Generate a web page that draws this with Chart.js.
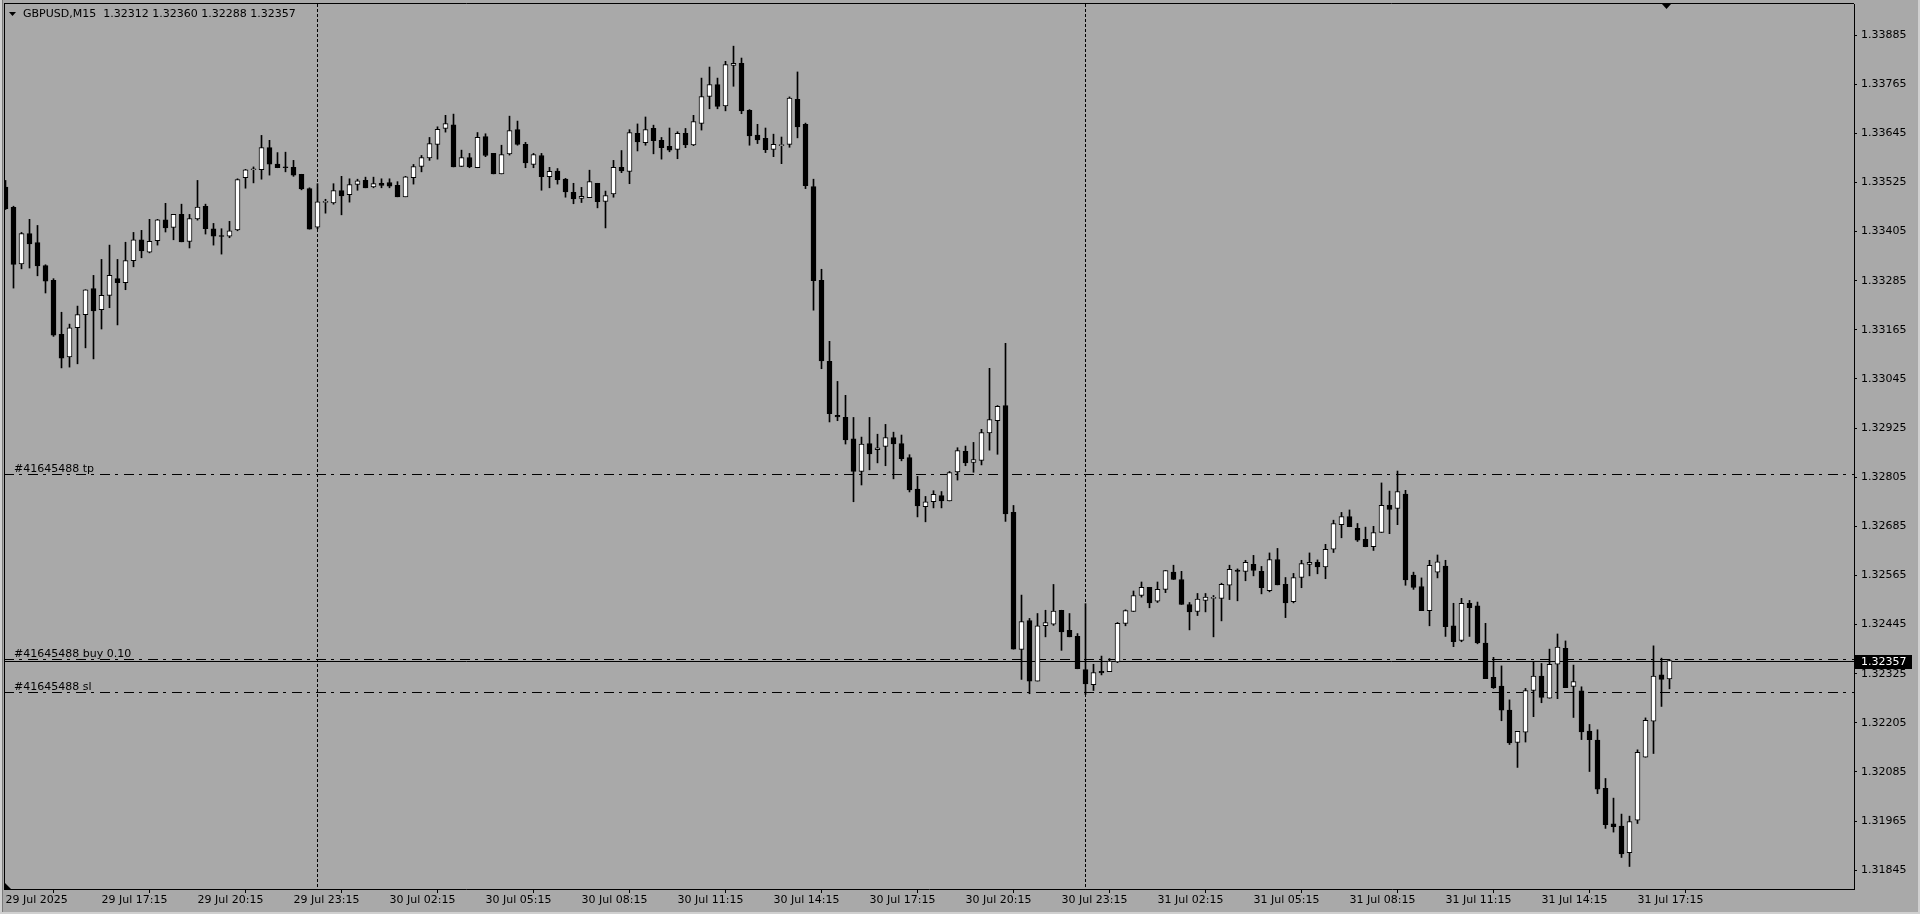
<!DOCTYPE html>
<html>
<head>
<meta charset="utf-8">
<title>GBPUSD,M15</title>
<script src="https://cdn.jsdelivr.net/npm/chart.js@4.4.1/dist/chart.umd.min.js"></script>
<style>
  html, body { margin: 0; padding: 0; background: #a9a9a9; overflow: hidden; }
  #wrap { width: 1920px; height: 914px; }
  canvas { display: block; }
</style>
</head>
<body>
<div id="wrap"><canvas id="chart" width="1920" height="914" style="width:1920px;height:914px"></canvas></div>
<script>
// GBPUSD M15 bars, 29 Jul 14:15 -> 31 Jul 18:15
const opens = [
  1.33514, 1.33464, 1.33326, 1.33400, 1.33378, 1.33322, 1.33286, 1.33154, 1.33099, 1.33170,
  1.33202, 1.33266, 1.33214, 1.33249, 1.33290, 1.33280, 1.33334, 1.33385, 1.33355, 1.33383,
  1.33434, 1.33415, 1.33447, 1.33381, 1.33436, 1.33467, 1.33412, 1.33395, 1.33394, 1.33409,
  1.33537, 1.33556, 1.33556, 1.33610, 1.33570, 1.33562, 1.33562, 1.33545, 1.33510, 1.33416,
  1.33476, 1.33475, 1.33505, 1.33495, 1.33520, 1.33530, 1.33514, 1.33523, 1.33525, 1.33518,
  1.33490, 1.33537, 1.33564, 1.33585, 1.33618, 1.33657, 1.33666, 1.33564, 1.33586, 1.33561,
  1.33637, 1.33596, 1.33546, 1.33595, 1.33654, 1.33618, 1.33569, 1.33591, 1.33539, 1.33553,
  1.33533, 1.33501, 1.33486, 1.33488, 1.33523, 1.33479, 1.33497, 1.33562, 1.33552, 1.33645,
  1.33622, 1.33657, 1.33628, 1.33613, 1.33606, 1.33645, 1.33617, 1.33669, 1.33735, 1.33764,
  1.33712, 1.33811, 1.33816, 1.33701, 1.33641, 1.33633, 1.33606, 1.33615, 1.33618, 1.33728,
  1.33667, 1.33515, 1.33286, 1.33088, 1.32956, 1.32951, 1.32899, 1.32819, 1.32887, 1.32872,
  1.32880, 1.32902, 1.32887, 1.32853, 1.32776, 1.32733, 1.32745, 1.32760, 1.32747, 1.32818,
  1.32868, 1.32841, 1.32846, 1.32913, 1.32943, 1.32980, 1.32719, 1.32384, 1.32455, 1.32307,
  1.32442, 1.32446, 1.32480, 1.32431, 1.32416, 1.32335, 1.32298, 1.32331, 1.32330, 1.32354,
  1.32448, 1.32477, 1.32516, 1.32536, 1.32502, 1.32531, 1.32573, 1.32555, 1.32494, 1.32477,
  1.32504, 1.32509, 1.32509, 1.32541, 1.32578, 1.32575, 1.32592, 1.32575, 1.32528, 1.32604,
  1.32543, 1.32501, 1.32560, 1.32592, 1.32597, 1.32586, 1.32629, 1.32689, 1.32709, 1.32680,
  1.32653, 1.32635, 1.32670, 1.32736, 1.32729, 1.32764, 1.32566, 1.32538, 1.32479, 1.32573,
  1.32588, 1.32442, 1.32406, 1.32497, 1.32491, 1.32400, 1.32316, 1.32295, 1.32236, 1.32157,
  1.32182, 1.32284, 1.32319, 1.32265, 1.32348, 1.32387, 1.32294, 1.32283, 1.32185, 1.32163,
  1.32045, 1.31958, 1.31953, 1.31888, 1.31967, 1.32121, 1.32209, 1.32322, 1.32312
];
const highs = [
  1.33530, 1.33467, 1.33403, 1.33435, 1.33420, 1.33324, 1.33290, 1.33208, 1.33179, 1.33223,
  1.33263, 1.33298, 1.33337, 1.33372, 1.33337, 1.33379, 1.33403, 1.33408, 1.33435, 1.33435,
  1.33474, 1.33447, 1.33472, 1.33447, 1.33530, 1.33472, 1.33425, 1.33412, 1.33430, 1.33534,
  1.33557, 1.33563, 1.33640, 1.33628, 1.33598, 1.33599, 1.33579, 1.33545, 1.33512, 1.33522,
  1.33484, 1.33522, 1.33540, 1.33534, 1.33533, 1.33538, 1.33538, 1.33534, 1.33534, 1.33527,
  1.33540, 1.33569, 1.33591, 1.33635, 1.33661, 1.33689, 1.33692, 1.33604, 1.33596, 1.33647,
  1.33644, 1.33596, 1.33616, 1.33687, 1.33675, 1.33623, 1.33596, 1.33596, 1.33562, 1.33559,
  1.33535, 1.33523, 1.33513, 1.33555, 1.33523, 1.33504, 1.33579, 1.33603, 1.33654, 1.33668,
  1.33685, 1.33665, 1.33635, 1.33658, 1.33649, 1.33657, 1.33689, 1.33780, 1.33807, 1.33780,
  1.33821, 1.33858, 1.33829, 1.33703, 1.33667, 1.33658, 1.33643, 1.33636, 1.33734, 1.33795,
  1.33670, 1.33533, 1.33313, 1.33137, 1.33039, 1.33005, 1.32951, 1.32903, 1.32951, 1.32910,
  1.32934, 1.32915, 1.32908, 1.32860, 1.32807, 1.32758, 1.32772, 1.32770, 1.32819, 1.32877,
  1.32881, 1.32890, 1.32922, 1.33071, 1.32980, 1.33132, 1.32736, 1.32517, 1.32460, 1.32472,
  1.32480, 1.32543, 1.32480, 1.32472, 1.32423, 1.32496, 1.32348, 1.32368, 1.32362, 1.32450,
  1.32481, 1.32527, 1.32549, 1.32536, 1.32549, 1.32577, 1.32590, 1.32575, 1.32499, 1.32521,
  1.32521, 1.32516, 1.32546, 1.32590, 1.32581, 1.32602, 1.32614, 1.32587, 1.32620, 1.32631,
  1.32560, 1.32570, 1.32602, 1.32620, 1.32603, 1.32641, 1.32700, 1.32719, 1.32725, 1.32692,
  1.32683, 1.32685, 1.32791, 1.32771, 1.32820, 1.32773, 1.32573, 1.32559, 1.32602, 1.32615,
  1.32602, 1.32497, 1.32509, 1.32504, 1.32500, 1.32448, 1.32365, 1.32344, 1.32261, 1.32184,
  1.32289, 1.32355, 1.32350, 1.32385, 1.32422, 1.32405, 1.32346, 1.32293, 1.32201, 1.32188,
  1.32069, 1.32021, 1.31982, 1.31977, 1.32139, 1.32217, 1.32393, 1.32363, 1.32360
];
const lows = [
  1.33459, 1.33267, 1.33314, 1.33316, 1.33297, 1.33255, 1.33149, 1.33072, 1.33074, 1.33082,
  1.33121, 1.33094, 1.33167, 1.33219, 1.33177, 1.33263, 1.33319, 1.33341, 1.33353, 1.33372,
  1.33404, 1.33385, 1.33380, 1.33365, 1.33433, 1.33399, 1.33372, 1.33350, 1.33390, 1.33407,
  1.33511, 1.33524, 1.33533, 1.33543, 1.33561, 1.33551, 1.33540, 1.33507, 1.33411, 1.33412,
  1.33450, 1.33472, 1.33446, 1.33477, 1.33506, 1.33512, 1.33512, 1.33512, 1.33512, 1.33490,
  1.33490, 1.33521, 1.33551, 1.33579, 1.33582, 1.33648, 1.33563, 1.33564, 1.33561, 1.33561,
  1.33588, 1.33546, 1.33546, 1.33592, 1.33616, 1.33561, 1.33561, 1.33506, 1.33512, 1.33521,
  1.33489, 1.33473, 1.33476, 1.33488, 1.33463, 1.33414, 1.33489, 1.33549, 1.33522, 1.33602,
  1.33616, 1.33595, 1.33582, 1.33600, 1.33583, 1.33610, 1.33615, 1.33653, 1.33705, 1.33705,
  1.33700, 1.33760, 1.33693, 1.33616, 1.33620, 1.33598, 1.33588, 1.33571, 1.33611, 1.33634,
  1.33510, 1.33213, 1.33070, 1.32940, 1.32943, 1.32886, 1.32745, 1.32786, 1.32823, 1.32840,
  1.32833, 1.32801, 1.32845, 1.32769, 1.32708, 1.32696, 1.32730, 1.32730, 1.32747, 1.32798,
  1.32833, 1.32817, 1.32835, 1.32871, 1.32861, 1.32697, 1.32385, 1.32311, 1.32276, 1.32307,
  1.32415, 1.32443, 1.32382, 1.32415, 1.32337, 1.32274, 1.32284, 1.32322, 1.32330, 1.32352,
  1.32442, 1.32477, 1.32512, 1.32486, 1.32499, 1.32523, 1.32555, 1.32494, 1.32432, 1.32467,
  1.32476, 1.32415, 1.32454, 1.32506, 1.32503, 1.32552, 1.32564, 1.32520, 1.32525, 1.32542,
  1.32462, 1.32498, 1.32535, 1.32564, 1.32569, 1.32557, 1.32621, 1.32657, 1.32684, 1.32648,
  1.32635, 1.32626, 1.32670, 1.32667, 1.32689, 1.32541, 1.32531, 1.32479, 1.32442, 1.32559,
  1.32416, 1.32391, 1.32403, 1.32416, 1.32398, 1.32313, 1.32289, 1.32210, 1.32152, 1.32096,
  1.32158, 1.32220, 1.32254, 1.32265, 1.32264, 1.32291, 1.32218, 1.32164, 1.32086, 1.32032,
  1.31947, 1.31938, 1.31876, 1.31854, 1.31959, 1.32121, 1.32130, 1.32245, 1.32288
];
const closes = [
  1.33461, 1.33325, 1.33400, 1.33375, 1.33321, 1.33284, 1.33152, 1.33096, 1.33170, 1.33202,
  1.33263, 1.33211, 1.33249, 1.33298, 1.33280, 1.33334, 1.33385, 1.33358, 1.33381, 1.33434,
  1.33414, 1.33447, 1.33380, 1.33437, 1.33465, 1.33412, 1.33394, 1.33393, 1.33407, 1.33532,
  1.33556, 1.33557, 1.33610, 1.33570, 1.33561, 1.33561, 1.33543, 1.33509, 1.33411, 1.33478,
  1.33479, 1.33505, 1.33492, 1.33520, 1.33529, 1.33512, 1.33522, 1.33518, 1.33516, 1.33490,
  1.33539, 1.33564, 1.33586, 1.33620, 1.33655, 1.33669, 1.33563, 1.33586, 1.33563, 1.33635,
  1.33591, 1.33546, 1.33593, 1.33652, 1.33618, 1.33573, 1.33593, 1.33539, 1.33552, 1.33532,
  1.33502, 1.33485, 1.33491, 1.33527, 1.33478, 1.33493, 1.33562, 1.33553, 1.33647, 1.33624,
  1.33654, 1.33627, 1.33610, 1.33604, 1.33645, 1.33617, 1.33674, 1.33735, 1.33764, 1.33711,
  1.33813, 1.33816, 1.33700, 1.33639, 1.33629, 1.33605, 1.33618, 1.33616, 1.33731, 1.33661,
  1.33517, 1.33285, 1.33089, 1.32960, 1.32952, 1.32896, 1.32819, 1.32886, 1.32862, 1.32877,
  1.32902, 1.32886, 1.32850, 1.32774, 1.32735, 1.32745, 1.32763, 1.32747, 1.32816, 1.32870,
  1.32840, 1.32848, 1.32914, 1.32946, 1.32978, 1.32715, 1.32385, 1.32452, 1.32307, 1.32442,
  1.32450, 1.32478, 1.32427, 1.32415, 1.32337, 1.32300, 1.32328, 1.32327, 1.32356, 1.32448,
  1.32479, 1.32516, 1.32536, 1.32498, 1.32531, 1.32577, 1.32555, 1.32494, 1.32476, 1.32507,
  1.32512, 1.32511, 1.32543, 1.32580, 1.32575, 1.32597, 1.32577, 1.32535, 1.32604, 1.32542,
  1.32498, 1.32560, 1.32594, 1.32597, 1.32586, 1.32629, 1.32692, 1.32709, 1.32684, 1.32651,
  1.32635, 1.32670, 1.32736, 1.32726, 1.32770, 1.32554, 1.32536, 1.32479, 1.32590, 1.32598,
  1.32440, 1.32403, 1.32497, 1.32486, 1.32400, 1.32313, 1.32291, 1.32236, 1.32156, 1.32184,
  1.32284, 1.32319, 1.32267, 1.32348, 1.32390, 1.32291, 1.32306, 1.32183, 1.32164, 1.32043,
  1.31956, 1.31951, 1.31885, 1.31964, 1.32133, 1.32211, 1.32319, 1.32311, 1.32357
];

// time labels, one every 12 bars (3 hours)
const xTickLabels = [
  '29 Jul 2025', '29 Jul 17:15', '29 Jul 20:15', '29 Jul 23:15', '30 Jul 02:15', '30 Jul 05:15',
  '30 Jul 08:15', '30 Jul 11:15', '30 Jul 14:15', '30 Jul 17:15', '30 Jul 20:15', '30 Jul 23:15',
  '31 Jul 02:15', '31 Jul 05:15', '31 Jul 08:15', '31 Jul 11:15', '31 Jul 14:15', '31 Jul 17:15'
];
const barsPerLabel = 12;
const yTicks = [
  1.31845, 1.31965, 1.32085, 1.32205, 1.32325, 1.32445, 1.32565, 1.32685, 1.32805,
  1.32925, 1.33045, 1.33165, 1.33285, 1.33405, 1.33525, 1.33645, 1.33765, 1.33885
];
const daySeparators = [39, 135];   // bars that open at 00:00
const orderLabels = ['#41645488 tp', '#41645488 buy 0.10', '#41645488 sl'];
const orderPrices = [1.32812, 1.32360, 1.32280];
const symbolTitle = 'GBPUSD,M15';

const FONT = '11px "DejaVu Sans", sans-serif';
const bid = closes[closes.length - 1];

const bodies = [], wicks = [], bodyColors = [];
for (let i = 0; i < closes.length; i++) {
  bodies.push({x: i, y: [opens[i], closes[i]]});
  wicks.push({x: i, y: [lows[i], highs[i]]});
  bodyColors.push(closes[i] >= opens[i] ? '#ffffff' : '#000000');
}

function hline(ctx, x1, x2, y) {
  ctx.beginPath(); ctx.moveTo(x1, y); ctx.lineTo(x2, y); ctx.stroke();
}

// keep the plot box fixed: no extra room for half labels
function noPad(s) {
  s.paddingTop = 0; s.paddingBottom = 0; s.paddingLeft = 0; s.paddingRight = 0;
}

const mt4Look = {
  id: 'mt4Look',
  beforeDraw(chart) {
    const ctx = chart.ctx;
    ctx.save();
    ctx.fillStyle = '#a9a9a9';
    ctx.fillRect(0, 0, chart.width, chart.height);
    ctx.restore();
  },
  beforeDatasetsDraw(chart) {
    const {ctx, chartArea: a, scales: {x, y}} = chart;
    ctx.save();
    ctx.strokeStyle = '#000';
    ctx.lineWidth = 1;
    // day separators
    ctx.setLineDash([3, 2]);
    daySeparators.forEach(function (i) {
      const px = Math.floor(x.getPixelForValue(i)) + 0.5;
      ctx.beginPath(); ctx.moveTo(px, a.top); ctx.lineTo(px, a.bottom); ctx.stroke();
    });
    // order levels
    ctx.setLineDash([10, 5, 3, 6]);
    ctx.font = FONT;
    ctx.fillStyle = '#000';
    ctx.textBaseline = 'alphabetic';
    ctx.textAlign = 'left';
    orderPrices.forEach(function (p, k) {
      const py = Math.round(y.getPixelForValue(p)) + 0.5;
      hline(ctx, a.left, a.right, py);
      ctx.fillText(orderLabels[k], a.left + 10, py - 3);
    });
    ctx.setLineDash([]);
    hline(ctx, a.left, a.right, Math.round(y.getPixelForValue(bid)) + 0.5);
    ctx.restore();
  },
  afterDraw(chart) {
    const {ctx, chartArea: a, scales: {y}} = chart;
    ctx.save();
    ctx.strokeStyle = '#000';
    ctx.lineWidth = 1;
    hline(ctx, a.left, a.right, a.top - 0.5);
    ctx.beginPath(); ctx.moveTo(a.left + 0.5, a.top - 1); ctx.lineTo(a.left + 0.5, a.bottom); ctx.stroke();

    // title
    ctx.fillStyle = '#000';
    ctx.beginPath(); ctx.moveTo(9, 12); ctx.lineTo(16, 12); ctx.lineTo(12.5, 16); ctx.closePath(); ctx.fill();
    ctx.font = FONT;
    ctx.textBaseline = 'middle';
    ctx.textAlign = 'left';
    const last = closes.length - 1;
    const ohlc = [opens[last], highs[last], lows[last], closes[last]].map(v => v.toFixed(5)).join(' ');
    ctx.fillText(symbolTitle + '  ' + ohlc, 23, 14);

    // chart shift marker and corner marker
    ctx.beginPath(); ctx.moveTo(1662, 4); ctx.lineTo(1671, 4); ctx.lineTo(1666.5, 9); ctx.closePath(); ctx.fill();
    ctx.beginPath(); ctx.moveTo(5, a.bottom - 6); ctx.lineTo(5, a.bottom); ctx.lineTo(11, a.bottom); ctx.closePath(); ctx.fill();

    // bid label on the price axis
    const py = Math.round(y.getPixelForValue(bid));
    ctx.fillRect(a.right + 1, py - 6, 57, 14);
    ctx.fillStyle = '#fff';
    ctx.fillText(bid.toFixed(5), a.right + 7, py + 1);

    // window frame
    ctx.fillStyle = '#d0d0d0';
    ctx.fillRect(0, 0, 2, chart.height);
    ctx.fillRect(0, chart.height - 2, chart.width, 2);
    ctx.fillRect(chart.width - 2, 0, 2, chart.height);
    ctx.fillStyle = '#7a7a7a';
    ctx.fillRect(2, 0, 1, chart.height - 2);
    ctx.restore();
  }
};

new Chart(document.getElementById('chart'), {
  type: 'bar',
  data: {
    datasets: [
      {
        label: 'body',
        data: bodies,
        backgroundColor: bodyColors,
        borderColor: '#000',
        borderWidth: 1,
        borderSkipped: false,
        barThickness: 5,
        minBarLength: 1,
        grouped: false
      },
      {
        label: 'wick',
        data: wicks,
        backgroundColor: '#000',
        borderWidth: 0,
        barThickness: 1,
        grouped: false
      }
    ]
  },
  options: {
    responsive: false,
    animation: false,
    devicePixelRatio: 1,
    events: [],
    layout: {padding: {left: 4, top: 4, right: 0, bottom: 0}},
    plugins: {legend: {display: false}, tooltip: {enabled: false}},
    scales: {
      x: {
        type: 'linear',
        offset: false,
        min: -0.1875,
        max: 231.0625,
        afterFit: s => { s.height = 25; noPad(s); },
        afterBuildTicks: s => { s.ticks = xTickLabels.map((l, k) => ({value: k * barsPerLabel})); },
        grid: {drawOnChartArea: false, drawTicks: true, tickLength: 4, color: '#000'},
        border: {color: '#000', width: 1},
        ticks: {
          autoSkip: false, maxRotation: 0, align: 'start', padding: 1,
          color: '#000', font: {family: 'DejaVu Sans', size: 11},
          callback: (v, i) => xTickLabels[i]
        }
      },
      y: {
        position: 'right',
        min: 1.31799,
        max: 1.33961,
        afterFit: s => { s.width = 66; noPad(s); },
        afterBuildTicks: s => { s.ticks = yTicks.map(v => ({value: v})); },
        grid: {drawOnChartArea: false, drawTicks: true, tickLength: 3, color: '#000'},
        border: {color: '#000', width: 1, dash: [2, 1]},
        ticks: {
          padding: 4, color: '#000', font: {family: 'DejaVu Sans', size: 11},
          callback: v => v.toFixed(5)
        }
      }
    }
  },
  plugins: [mt4Look]
});
</script>
</body>
</html>
